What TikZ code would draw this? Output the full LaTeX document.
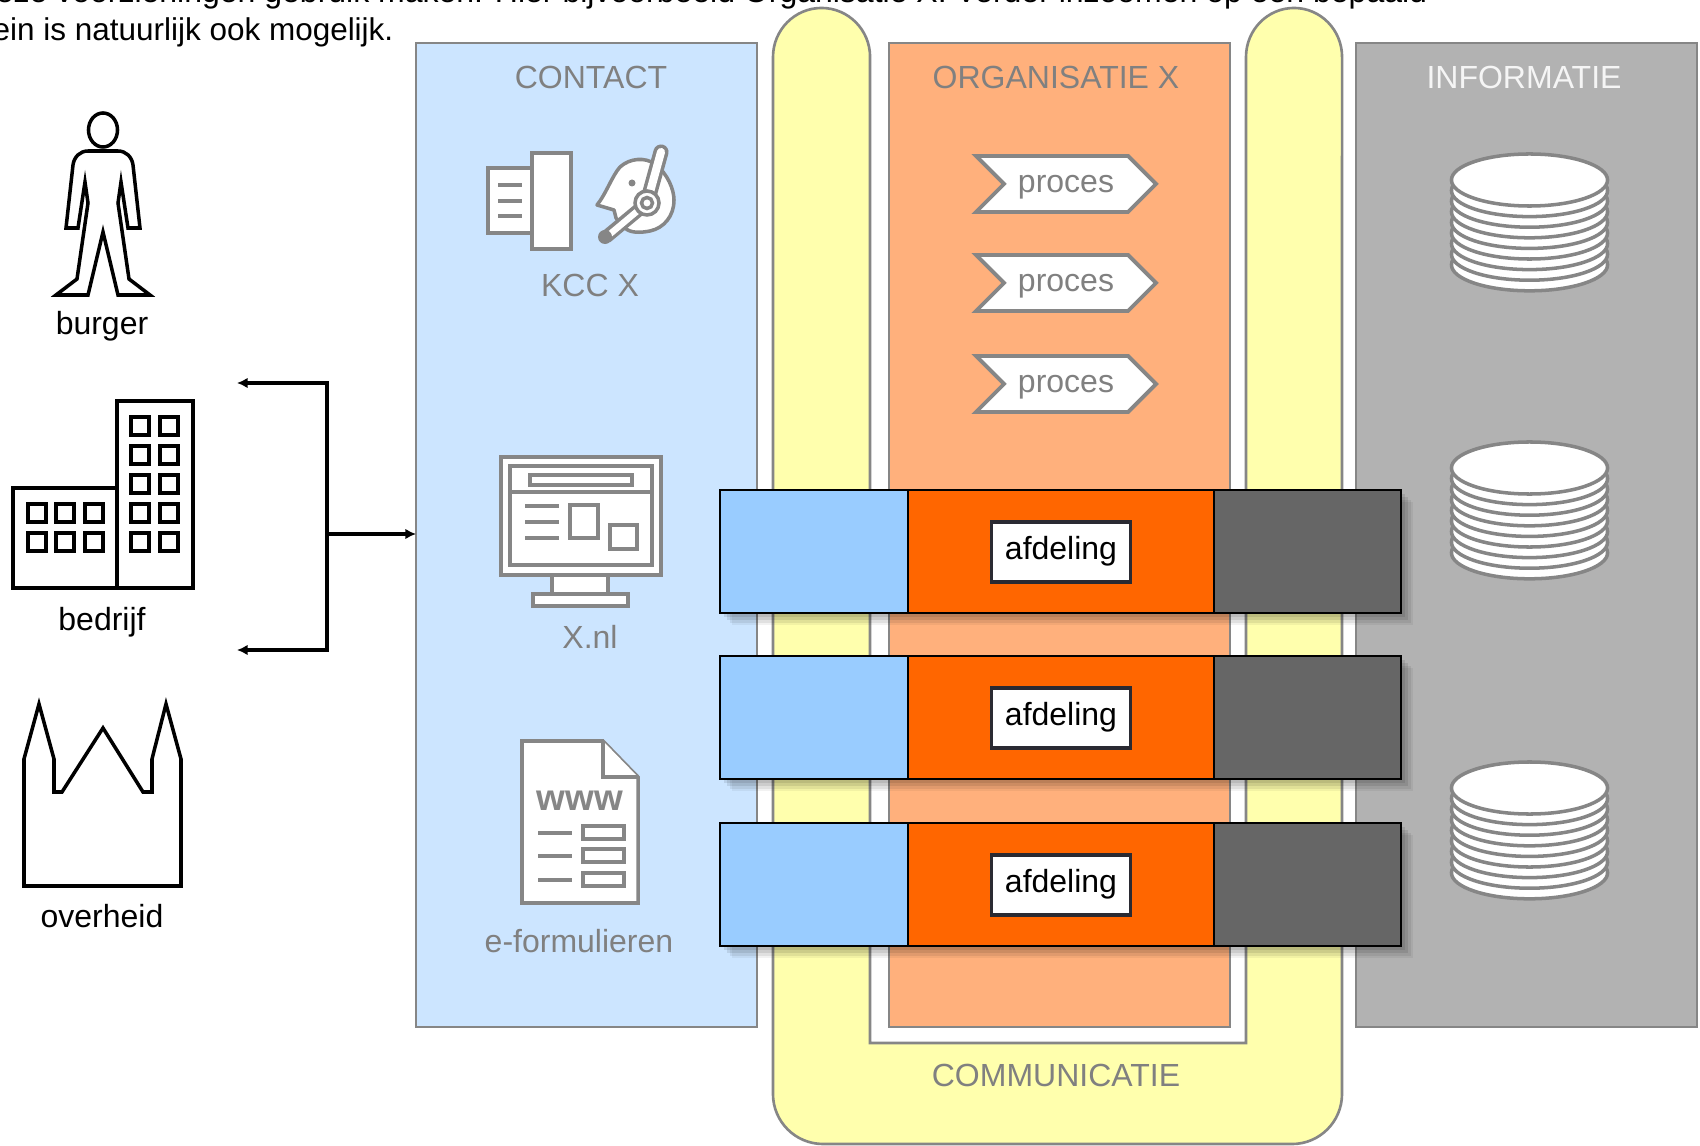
\documentclass[tikz,border=0pt]{standalone}
\usepackage{fontspec}
\setmainfont{Liberation Sans}
\usetikzlibrary{shadows,arrows.meta}
\definecolor{contactblue}{HTML}{CCE5FF}
\definecolor{barblue}{HTML}{99CCFF}
\definecolor{commyellow}{HTML}{FFFFAD}
\definecolor{orgorange}{HTML}{FFB07C}
\definecolor{barorange}{HTML}{FF6600}
\definecolor{infogray}{HTML}{B2B2B2}
\definecolor{bargray}{HTML}{666666}
\definecolor{edgegray}{HTML}{868686}
\definecolor{labelgray}{HTML}{808080}
\definecolor{afdedge}{HTML}{2A2A32}
\tikzset{
	lbl/.style={font=\fontsize{9.1}{11}\selectfont, inner sep=0pt},
	toplbl/.style={font=\fontsize{8.95}{11}\selectfont, inner sep=0pt, anchor=base east},
	graylbl/.style={lbl, text=labelgray},
	panel/.style={draw=edgegray, line width=0.6pt, inner sep=0pt, outer sep=0pt, anchor=north west},
	icon/.style={draw=edgegray, line width=1pt, fill=white, line join=miter},
	actor/.style={draw=black, line width=1pt, fill=white, line join=miter},
	link/.style={draw=black, line width=1.15pt, -{Latex[length=3pt,width=3pt]}},
	softshadow/.style={
		general shadow={fill=black, opacity=.09, shadow xshift=1.2pt, shadow yshift=-1.2pt},
		general shadow={fill=black, opacity=.09, shadow xshift=2pt, shadow yshift=-2pt},
		general shadow={fill=black, opacity=.07, shadow xshift=2.8pt, shadow yshift=-2.8pt},
		general shadow={fill=black, opacity=.05, shadow xshift=3.5pt, shadow yshift=-3.5pt}},
	processbox/.style={draw=edgegray, line width=1.1pt, fill=white, line join=miter}
}
\begin{document}
\begin{tikzpicture}[x=0.01cm, y=-0.01cm]
	\useasboundingbox (0,0) rectangle (1700,1146);
	\clip (0,0) rectangle (1700,1146);
	\fill[white] (0,0) rectangle (1700,1146);

	% text that runs off the page
	\node[lbl, anchor=base east] (line1) at (1428,3) {deze voorzieningen gebruik maken. Hier bijvoorbeeld Organisatie X. Verder inzoomen op een bepaald};
	\node[toplbl] (line2) at (394,41) {ein is natuurlijk ook mogelijk.};

	% columns
	\node[panel, fill=contactblue, minimum width=3.41cm, minimum height=9.83cm] (contact) at (416,43) {};
	\node[panel, fill=orgorange, minimum width=3.41cm, minimum height=9.83cm] (org) at (889,43) {};
	\node[panel, fill=infogray, minimum width=3.41cm, minimum height=9.83cm] (info) at (1356,43) {};
	\draw[draw=edgegray, line width=0.75pt, fill=commyellow]
		(773,57) arc[start angle=180, end angle=0, x radius=0.485cm, y radius=0.49cm]
		-- (870,1043) -- (1246,1043) -- (1246,57)
		arc[start angle=180, end angle=0, x radius=0.48cm, y radius=0.49cm]
		-- (1342,1094) arc[start angle=0, end angle=-90, radius=0.5cm]
		-- (823,1144) arc[start angle=-90, end angle=-180, radius=0.5cm] -- cycle;

	\node[graylbl] (contactlbl) at (591,77) {CONTACT};
	\node[graylbl] (orglbl) at (1056,77) {ORGANISATIE X};
	\node[lbl, text=white!96!black] (infolbl) at (1524,77) {INFORMATIE};
	\node[graylbl] (commlbl) at (1056,1075) {COMMUNICATIE};

	% burger
	\draw[actor] (103,130) ellipse[x radius=0.145cm, y radius=0.17cm];
	\draw[actor] (88,151) -- (118,151) .. controls (126,151) and (132,157) .. (133,165)
		-- (140,228) -- (128,228) -- (121,182) -- (118,203) -- (129,279) -- (150,295) -- (118,295)
		-- (103,232) -- (88,295) -- (56,295) -- (77,279) -- (88,203) -- (85,182) -- (78,228)
		-- (66,228) -- (73,165) .. controls (74,157) and (80,151) .. (88,151) -- cycle;
	\node[lbl] (burger) at (102,326) {burger};

	% bedrijf
	\draw[actor] (13,488) rectangle (117,588);
	\draw[actor] (117,401) rectangle (193,588);
	\foreach \wx in {37,65,94}
		\foreach \wy in {513,542}
			\draw[actor] (\wx-9,\wy-9) rectangle (\wx+9,\wy+9);
	\foreach \wx in {140,169}
		\foreach \wy in {426,455,484,513,542}
			\draw[actor] (\wx-9,\wy-9) rectangle (\wx+9,\wy+9);
	\node[lbl] (bedrijf) at (102,622) {bedrijf};

	% overheid
	\draw[actor] (24,886) -- (24,759) -- (39,704) -- (54,759) -- (54,792) -- (62,792) -- (103,728)
		-- (143,792) -- (152,792) -- (152,759) -- (166,704) -- (181,759) -- (181,886) -- cycle;
	\node[lbl] (overheid) at (102,916) {overheid};

	% connectors
	\coordinate (bracketmid) at (327,534);
	\coordinate (bracketup) at (327,383);
	\coordinate (bracketdown) at (327,650);
	\coordinate (upend) at (237,383);
	\coordinate (downend) at (237,650);
	\draw[link] (bracketmid) -- (contact.west |- bracketmid);
	\draw[link] (bracketmid) -- (bracketup) -- (upend);
	\draw[link] (bracketmid) -- (bracketdown) -- (downend);

	% KCC
	\draw[icon] (488,168) rectangle (532,233);
	\draw[icon] (532,153) rectangle (571,249);
	\foreach \ly in {185,201,216}
		\draw[edgegray, line width=1pt] (498,\ly) -- (522,\ly);
	\draw[icon, line join=round] (597,205) .. controls (606,194) and (612,176) .. (620,167)
		.. controls (630,158) and (645,157) .. (655,164)
		.. controls (668,174) and (674,190) .. (674,200)
		.. controls (674,216) and (664,228) .. (650,231)
		.. controls (640,233) and (630,233) .. (625,228) -- (616,218) -- (614,210) -- cycle;
	\fill[edgegray] (632,183) circle[radius=0.035cm];
	\draw[edgegray, line width=4.3pt, line cap=round] (647,203) -- (661,152);
	\draw[white, line width=2.3pt, line cap=round] (647,203) -- (661,152);
	\draw[edgegray, line width=3.8pt] (647,203) -- (606,237);
	\draw[white, line width=1.8pt] (647,203) -- (610,234);
	\fill[edgegray] (605,237) circle[radius=0.07cm];
	\draw[icon] (647,203) circle[radius=0.12cm];
	\draw[icon] (647,203) circle[radius=0.055cm];
	\node[graylbl] (kcc) at (590,285) {KCC X};

	% monitor
	\draw[icon] (552,575) rectangle (608,594);
	\draw[icon] (533,594) rectangle (628,606);
	\draw[icon] (501,457) rectangle (661,575);
	\draw[icon] (510,466) rectangle (652,565);
	\draw[edgegray, line width=1pt] (510,492) -- (652,492);
	\draw[icon] (530,475) rectangle (632,485);
	\foreach \ly in {506,522,538}
		\draw[edgegray, line width=1pt] (525,\ly) -- (559,\ly);
	\draw[icon] (570,505) rectangle (598,538);
	\draw[icon] (610,525) rectangle (637,549);
	\node[graylbl] (xnl) at (590,637) {X.nl};

	% formulier
	\draw[icon] (522,741) -- (603,741) -- (638,777) -- (638,903) -- (522,903) -- cycle;
	\draw[icon] (603,741) -- (603,777) -- (638,777);
	\node[inner sep=0pt, text=edgegray, font=\fontsize{10.5}{12}\selectfont\bfseries] (www) at (580,801) {www};
	\foreach \ly in {833,856,880} {
		\draw[edgegray, line width=1pt] (538,\ly) -- (572,\ly);
		\draw[icon] (583,\ly-7) rectangle (624,\ly+6);
	}
	\node[graylbl] (eform) at (579,941) {e-formulieren};

	% proces
	\foreach \py/\pname in {156/a, 255/b, 356/c} {
		\draw[processbox] (976,\py) -- (1128,\py) -- (1156,\py+28) -- (1128,\py+56) -- (976,\py+56)
			-- (1004,\py+28) -- cycle;
		\node[graylbl] (proces\pname) at (1066,\py+31) {proces};
	}

	% gegevens
	\foreach \sy in {153,441,761} {
		\fill[white] (1451,\sy+27) rectangle (1608,\sy+112);
		\foreach \dk in {8,7,...,0}
			\draw[icon] (1529.5,\sy+27+\dk*10.6) ellipse[x radius=0.78cm, y radius=0.26cm];
	}

	% afdelingen
	\foreach \by/\bname in {490/a, 656/b, 823/c} {
		\fill[black, softshadow] (720,\by) rectangle (1401,\by+123);
		\draw[black, line width=0.6pt, fill=barblue] (720,\by) rectangle (908,\by+123);
		\draw[black, line width=0.6pt, fill=barorange] (908,\by) rectangle (1214,\by+123);
		\draw[black, line width=0.6pt, fill=bargray] (1214,\by) rectangle (1401,\by+123);
		\node[draw=afdedge, line width=1pt, fill=white, minimum width=1.39cm, minimum height=0.6cm, inner sep=0pt]
			(afdbox\bname) at (1061,\by+62) {};
		\node[lbl] (afd\bname) at (1061,\by+61) {afdeling};
	}
\end{tikzpicture}
\end{document}
